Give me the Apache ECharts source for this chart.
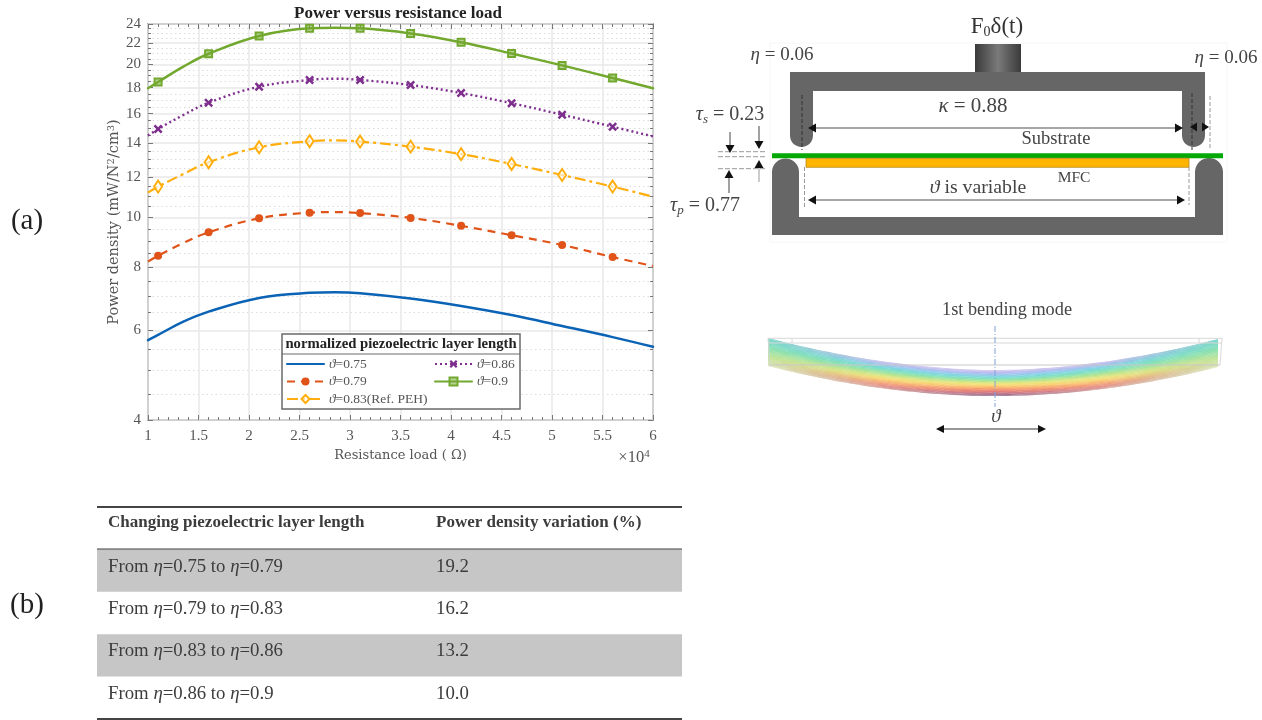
<!DOCTYPE html>
<html>
<head>
<meta charset="utf-8">
<style>html,body{margin:0;padding:0;background:#fff}#c{width:1262px;height:720px}</style>
<script src="https://cdn.jsdelivr.net/npm/echarts@6/dist/echarts.min.js"></script>
</head>
<body>
<div id="c"></div>
<script>
// ---- chart data ----
const resistance = [10000, 11000, 13500, 16000, 21000, 26000, 28500, 31000, 36000, 41000, 46000, 51000, 56000, 60000];
const unmarked = [10000, 13500, 28500, 60000];
const theta075 = [5.74, 5.88, 6.24, 6.53, 6.95, 7.11, 7.13, 7.10, 6.93, 6.70, 6.43, 6.12, 5.82, 5.57];
const theta079 = [8.19, 8.41, 8.91, 9.35, 9.96, 10.22, 10.25, 10.20, 9.98, 9.63, 9.23, 8.83, 8.36, 8.03];
const theta083 = [11.19, 11.50, 12.17, 12.84, 13.74, 14.12, 14.18, 14.10, 13.78, 13.32, 12.74, 12.12, 11.50, 10.99];
const theta086 = [14.48, 14.92, 15.90, 16.81, 18.07, 18.63, 18.74, 18.63, 18.21, 17.56, 16.77, 15.92, 15.08, 14.43];
const theta090 = [17.95, 18.46, 19.79, 20.98, 22.74, 23.54, 23.60, 23.54, 23.00, 22.10, 21.00, 19.90, 18.80, 17.94];
const seriesNames = ['ϑ=0.75', 'ϑ=0.79', 'ϑ=0.83(Ref. PEH)', 'ϑ=0.86', 'ϑ=0.9'];
const yMajorTicks = [4, 6, 8, 10, 12, 14, 16, 18, 20, 22, 24];
const yMinorTicks = [4.5, 5, 5.5, 6.5, 7, 7.5, 8.5, 9, 9.5, 10.5, 11, 11.5, 12.5, 13, 13.5, 14.5, 15, 15.5, 16.5, 17, 17.5, 18.5, 19, 19.5, 20.5, 21, 21.5, 22.5, 23, 23.5];
// ---- table data ----
const tableHeader = ['Changing piezoelectric layer length', 'Power density variation (%)'];
const tableChange = ['From {i|η}=0.75 to {i|η}=0.79', 'From {i|η}=0.79 to {i|η}=0.83', 'From {i|η}=0.83 to {i|η}=0.86', 'From {i|η}=0.86 to {i|η}=0.9'];
const tableVariation = ['19.2', '16.2', '13.2', '10.0'];

const SERIF = '"Liberation Serif","DejaVu Serif",serif';
const WIDE = '"DejaVu Serif","Liberation Serif",serif';
const TXT = '#555';
const el = document.getElementById('c');
const chart = echarts.init(el, null, {renderer: 'canvas', width: 1262, height: 720});

// a practically empty glyph so the blue legend entry shows its line only
const noGlyph = 'path://M0 0L0.01 0L0 0.01Z M100 100L100.01 100L100 100.01Z';
function lineSeries(name, vals, color, dash, width, symbol, size, fill, bw) {
  return {
    name, type: 'line', xAxisIndex: 0, yAxisIndex: 0,
    data: vals.map((v, i) => (symbol === noGlyph || unmarked.includes(resistance[i]))
      ? {value: [resistance[i], v], symbol: 'none'} : {value: [resistance[i], v]}),
    smooth: 0.4, clip: true,
    showAllSymbol: true,
    symbol,
    symbolSize: size,
    lineStyle: {color, width, type: dash, cap: dash === 'solid' ? 'round' : 'butt'},
    itemStyle: {color: fill, borderColor: color, borderWidth: bw},
    z: 3
  };
}
const xShape = 'path://M2 0 L5 3 L8 0 L10 2 L7 5 L10 8 L8 10 L5 7 L2 10 L0 8 L3 5 L0 2 Z';
const hidden = {show: false};

function yAxisCopy(pos, ticks, splitStyle, tickLen) {
  return {
    type: 'log', gridIndex: 0, position: pos, min: 4, max: 24, logBase: 10,
    axisLine: {show: false},
    axisLabel: {show: false, customValues: ticks},
    axisTick: {show: true, inside: true, length: tickLen, customValues: ticks, lineStyle: {color: '#777', width: 1}},
    minorTick: {show: false},
    splitLine: splitStyle ? {show: true, lineStyle: splitStyle} : {show: false}
  };
}
const yMain = yAxisCopy('left', yMajorTicks, {color: '#e8e8e8', width: 1.5}, 5);
yMain.axisLabel = {show: true, customValues: yMajorTicks, fontFamily: SERIF, fontSize: 15, color: TXT, margin: 7, formatter: v => String(Math.round(v))};
yMain.name = '{a|Power density (mW/N}{s|2}{a|/cm}{s|3}{a|)}';
yMain.nameLocation = 'middle';
yMain.nameGap = 25;
yMain.nameTextStyle = {rich: {a: {fontFamily: WIDE, fontSize: 14.5, color: TXT}, s: {fontFamily: WIDE, fontSize: 10, color: TXT, padding: [0, 0, 7, 0]}}};

const xMain = {
  type: 'value', gridIndex: 0, position: 'bottom', min: 10000, max: 60000, interval: 5000,
  axisLine: {show: false, onZero: false},
  axisTick: {show: true, inside: true, length: 5, lineStyle: {color: '#777'}},
  minorTick: {show: true, splitNumber: 5, length: 3, lineStyle: {color: '#777'}},
  splitLine: {show: true, lineStyle: {color: '#e8e8e8', width: 1.5}},
  axisLabel: {fontFamily: SERIF, fontSize: 15, color: TXT, margin: 9, formatter: v => String(v / 10000)},
  name: 'Resistance load ( Ω)', nameLocation: 'middle', nameGap: 28,
  nameTextStyle: {fontFamily: WIDE, fontSize: 13, color: TXT}
};
const xTop = {
  type: 'value', gridIndex: 0, position: 'top', min: 10000, max: 60000, interval: 5000,
  axisLine: {show: false, onZero: false},
  axisTick: {show: true, inside: true, length: 5, lineStyle: {color: '#777'}},
  minorTick: {show: true, splitNumber: 5, length: 3, lineStyle: {color: '#777'}},
  splitLine: hidden, axisLabel: hidden
};

// ---- table through its own category grid ----
function renderTable(params, api) {
  const row = api.value(0);
  const r = params.coordSys;
  const c = api.coord([0, row]);
  const h = api.size([0, 1])[1];
  const top = c[1] - h / 2, bottom = c[1] + h / 2;
  const kids = [];
  if (row % 2 === 1) kids.push({type: 'rect', shape: {x: r.x, y: top, width: r.width, height: h}, style: {fill: '#c6c6c6'}});
  const font = row === 0 ? 'bold 17px ' + SERIF : '18.8px ' + SERIF;
  const t1 = row === 0 ? tableHeader[0] : tableChange[row - 1];
  const t2 = row === 0 ? tableHeader[1] : tableVariation[row - 1];
  [[t1, r.x + 11], [t2, r.x + 339]].forEach(([t, x]) => kids.push({
    type: 'text',
    style: {text: t, x, y: c[1] - (row === 0 ? 6 : 4), font, fill: '#3c3c3c', align: 'left', verticalAlign: 'middle',
      rich: {i: {font: 'italic 18.8px ' + SERIF, fill: '#3c3c3c'}}}
  }));
  const rule = (y, w) => ({type: 'line', shape: {x1: r.x, y1: y, x2: r.x + r.width, y2: y}, style: {stroke: '#444', lineWidth: w}});
  if (row === 0) { kids.push(rule(top, 2)); kids.push(rule(bottom, 2)); }
  if (row === tableChange.length) kids.push(rule(bottom, 2));
  return {type: 'group', children: kids};
}

// ---- schematic (illustration, not data) ----
const G = [];
const txt = (text, x, y, size, o = {}) => G.push({type: 'text', z: 6, style: Object.assign({text, x, y, font: (o.it ? 'italic ' : '') + (o.bold ? 'bold ' : '') + size + 'px ' + SERIF, fill: o.fill || '#444', align: o.align || 'center', verticalAlign: 'middle'}, o.rich ? {rich: o.rich} : {})});
const GRAY = '#666666';
const seg = (x1, y1, x2, y2, stroke, w, dash) => G.push({type: 'line', z: 6, shape: {x1, y1, x2, y2}, style: {stroke, lineWidth: w, lineDash: dash || null}});
const head = (x, y, dir, l = 8, b = 4.5) => {
  const pts = dir === 'l' ? [[x, y], [x + l, y - b], [x + l, y + b]] : dir === 'r' ? [[x, y], [x - l, y - b], [x - l, y + b]] :
    dir === 'u' ? [[x, y], [x - b, y + l], [x + b, y + l]] : [[x, y], [x - b, y - l], [x + b, y - l]];
  G.push({type: 'polygon', z: 7, shape: {points: pts}, style: {fill: '#111'}});
};
const arcPts = (cx0, cy0, r, a0, a1) => { const out = []; for (let i = 0; i <= 16; i++) { const a = (a0 + (a1 - a0) * i / 16) * Math.PI / 180; out.push([cx0 + r * Math.cos(a), cy0 + r * Math.sin(a)]); } return out; };
// faint picture border
G.push({type: 'rect', z: 1, shape: {x: 770, y: 43, width: 457, height: 199}, style: {fill: 'none', stroke: '#f6f6f6', lineWidth: 1}});
// weight block
G.push({type: 'rect', z: 5, shape: {x: 975, y: 44, width: 46, height: 28}, style: {fill: new echarts.graphic.LinearGradient(0, 0, 1, 0, [
  {offset: 0, color: '#3a3a3a'}, {offset: 0.5, color: '#7a7a7a'}, {offset: 1, color: '#3a3a3a'}])}});
// upper frame
G.push({type: 'polygon', z: 5, shape: {points: [[790, 72], [1205, 72]].concat(arcPts(1193.5, 135.5, 11.5, 0, 180), [[1182, 91], [813, 91]], arcPts(801.5, 135.5, 11.5, 0, 180))}, style: {fill: GRAY}});
// lower frame
G.push({type: 'polygon', z: 5, shape: {points: [[772, 235]].concat(arcPts(785.5, 172, 13.5, 180, 360), [[799, 217], [1195, 217]], arcPts(1209, 172, 14, 180, 360), [[1223, 235]])}, style: {fill: GRAY}});
// layers
G.push({type: 'rect', z: 6, shape: {x: 772, y: 153.3, width: 451, height: 5}, style: {fill: '#06a806'}});
G.push({type: 'rect', z: 6, shape: {x: 806, y: 158.3, width: 383, height: 9}, style: {fill: '#ffb400', stroke: '#b78a20', lineWidth: 0.8}});
// dashed guides
seg(802, 95, 802, 150, '#333', 1, [4, 2]);
seg(1192, 93, 1192, 150, '#333', 1, [4, 2]);
seg(1210, 96, 1210, 148, '#999', 1, [4, 2]);
seg(804.5, 167, 804.5, 208, '#999', 1, [4, 2]);
seg(1189, 167, 1189, 205, '#999', 1, [4, 2]);
[151.7, 156.7, 168.7].forEach(y => seg(718, y, 767, y, '#999', 1, [5, 2]));
// dimension arrows
seg(810, 128, 1180, 128, '#8a8a8a', 1.3); head(808, 128, 'l'); head(1183, 128, 'r');
seg(810, 200, 1183, 200, '#8a8a8a', 1.3); head(808, 200, 'l'); head(1185, 200, 'r');
head(1190, 127, 'l', 7); head(1209, 127, 'r', 7);
seg(730, 132, 730, 146, '#444', 1); head(730, 153, 'd');
seg(759, 126, 759, 142, '#444', 1); head(759, 149, 'd');
seg(759, 168, 759, 182, '#999', 1); head(759, 160, 'u');
seg(729, 178, 729, 193, '#444', 1); head(729, 170, 'u');
// labels
const mathEta = {i: {font: 'italic 19px ' + SERIF, fill: '#444'}};
const mathTau = {i: {font: 'italic 20px ' + SERIF, fill: '#444'}, sub: {font: 'italic 13px ' + SERIF, fill: '#444', verticalAlign: 'top', padding: [10, 0, 0, 0]}};
txt('F{sub|0}δ(t)', 997, 27, 23, {rich: {sub: {font: '14px ' + SERIF, fill: '#333', padding: [10, 0, 0, 0]}}, fill: '#333'});
txt('{i|η} = 0.06', 782, 55, 19, {rich: mathEta});
txt('{i|η} = 0.06', 1226, 58, 19, {rich: mathEta});
txt('{i|κ} = 0.88', 973, 106, 21, {rich: {i: {font: 'italic 21px ' + SERIF, fill: '#444'}}});
txt('Substrate', 1056, 139, 18.5);
txt('MFC', 1074, 178, 15.5);
txt('{i|ϑ} is variable', 978, 188, 19.8, {rich: {i: {font: 'italic 19.8px ' + SERIF, fill: '#444'}}});
txt('{i|τ}{sub|s} = 0.23', 730, 115, 20, {rich: mathTau});
txt('{i|τ}{sub|p} = 0.77', 705, 206, 20, {rich: mathTau});
txt('(a)', 27, 221, 29, {fill: '#222'});
txt('(b)', 27, 605, 29, {fill: '#222'});

// bending-mode beam: thin bands, colour varies along the span and through the depth
const cx = 995, halfSpan = 227;
const midStops = ['#dccff0', '#b9b2ec', '#98c0ee', '#6fd6dc', '#7cdfa6', '#bce47e', '#f5e26c', '#fbc061', '#f59360', '#e66e66', '#b5637f', '#8c6a8c'];
const endStops = ['#6fd3c6', '#6fd5c2', '#72d8bc', '#78dab4', '#82ddaa', '#90dfa2', '#a2e09a', '#b2e292', '#bee292', '#c8e29a', '#d2e4a8', '#dce8bc'];
const quarterStops = ['#cbbdea', '#a2b6ec', '#78cfe4', '#6ddac6', '#84dfa6', '#ade188', '#dce478', '#f6da6c', '#f8b868', '#f2956c', '#e08a84', '#d8a49c'];
const bands = 44;
function beamY(x, f) {
  const u = Math.abs(x - cx) / halfSpan;
  const top = 370 - 32 * Math.pow(u, 1.85);
  const bot = 396 - 30 * Math.pow(u, 1.95);
  return top + (bot - top) * f;
}
function stopAt(list, f) {
  const p = f * (list.length - 1), i = Math.min(Math.floor(p), list.length - 2), t = p - i;
  const a = echarts.color.parse(list[i]), b = echarts.color.parse(list[i + 1]);
  return 'rgb(' + [0, 1, 2].map(k => Math.round(a[k] + (b[k] - a[k]) * t)).join(',') + ')';
}
for (let b = 0; b < bands; b++) {
  const f0 = b / bands, f1 = Math.min(1, (b + 1.3) / bands), fm = (b + .5) / bands;
  const up = [], dn = [];
  for (let x = cx - halfSpan; x <= cx + halfSpan; x += 6) { up.push([x, beamY(x, f0)]); dn.unshift([x, beamY(x, f1)]); }
  const grad = new echarts.graphic.LinearGradient(0, 0, 1, 0, [
    {offset: 0, color: stopAt(endStops, fm)}, {offset: 0.25, color: stopAt(quarterStops, fm)}, {offset: 0.5, color: stopAt(midStops, fm)},
    {offset: 0.75, color: stopAt(quarterStops, fm)}, {offset: 1, color: stopAt(endStops, fm)}], false);
  G.push({type: 'polygon', z: 5, shape: {points: up.concat(dn)}, style: {fill: grad}});
}
seg(768, 338.3, 1222, 338.3, '#d8d8d8', 1);
seg(768, 343, 1222, 343, '#d8d8d8', 1);
seg(769, 365, 1220, 365, '#c8c8c8', 1);
seg(792, 338, 792, 343, '#d8d8d8', 1); seg(1199, 338, 1199, 343, '#d8d8d8', 1);
seg(768, 338, 770, 365, '#d8d8d8', 1); seg(1222, 338, 1220, 365, '#d8d8d8', 1);
seg(995, 326, 995, 407, '#7f9fd8', 1, [6, 2, 1, 2]);
txt('1st bending mode', 1007, 310, 18.3);
txt('ϑ', 996, 417, 19, {it: true});
seg(940, 429, 1042, 429, '#333', 1.2); head(936, 429, 'l', 8, 4); head(1046, 429, 'r', 8, 4);

// chart text not owned by an axis, and the legend panel
txt('×10{s|4}', 634, 458, 16.5, {fill: TXT, rich: {s: {font: '11px ' + SERIF, fill: TXT, padding: [0, 0, 8, 0]}}});
G.push({type: 'rect', z: 5, shape: {x: 282, y: 334, width: 238, height: 75}, style: {fill: '#fff', stroke: '#6a6a6a', lineWidth: 1.5}});
G.push({type: 'line', z: 6, shape: {x1: 282, y1: 354, x2: 520, y2: 354}, style: {stroke: '#6a6a6a', lineWidth: 1}});
txt('normalized piezoelectric layer length', 401, 344.5, 14.7, {bold: true, fill: '#222'});

const legendBase = {
  orient: 'vertical', itemWidth: 37, itemHeight: 10, itemGap: 3.5, z: 12, padding: 0,
  textStyle: {fontFamily: SERIF, fontSize: 13.5, color: TXT, rich: {i: {fontFamily: SERIF, fontStyle: 'italic', fontSize: 13.5, color: TXT}}},
  formatter: n => n.replace('ϑ', '{i|ϑ}')
};

chart.setOption({
  animation: false,
  backgroundColor: '#fff',
  title: {text: 'Power versus resistance load', left: 393, top: 0, textAlign: 'center',
    textStyle: {fontFamily: SERIF, fontWeight: 'bold', fontSize: 17, color: '#222'}},
  grid: [
    {left: 148, top: 24, width: 505, height: 396, show: true, backgroundColor: '#fff', borderColor: '#666', borderWidth: 1.5, z: 0},
    {left: 97, top: 507, width: 585, height: 212}
  ],
  legend: [
    Object.assign({}, legendBase, {left: 286, top: 357, data: seriesNames.slice(0, 3)}),
    Object.assign({}, legendBase, {left: 434, top: 357, data: seriesNames.slice(3)})
  ],
  xAxis: [xMain, xTop, {type: 'value', gridIndex: 1, min: 0, max: 1, show: false}],
  yAxis: [
    yMain,
    yAxisCopy('left', yMinorTicks, {color: '#dcdcdc', width: 1, type: [1.5, 3]}, 3),
    yAxisCopy('right', yMajorTicks, null, 5),
    yAxisCopy('right', yMinorTicks, null, 3),
    {type: 'category', gridIndex: 1, inverse: true, show: false, data: ['header'].concat(tableVariation)}
  ],
  graphic: {elements: G},
  series: [
    lineSeries(seriesNames[0], theta075, '#0b63b5', 'solid', 2.5, noGlyph, 0, '#0b63b5', 0),
    lineSeries(seriesNames[1], theta079, '#e0541a', [8, 6], 2.2, 'circle', 8, '#e0541a', 0),
    lineSeries(seriesNames[2], theta083, '#ffae0d', [11, 4, 3, 4], 2.2, 'diamond', [8, 12], 'rgba(255,255,255,0.6)', 2),
    lineSeries(seriesNames[3], theta086, '#7e2f8e', [2, 3], 2.4, xShape, 9, '#7e2f8e', 0),
    lineSeries(seriesNames[4], theta090, '#73a82f', 'solid', 2.5, 'rect', 7, 'rgba(115,168,47,0.5)', 2),
    {type: 'line', xAxisIndex: 1, yAxisIndex: 1, data: [], silent: true},
    {type: 'line', xAxisIndex: 1, yAxisIndex: 2, data: [], silent: true},
    {type: 'line', xAxisIndex: 1, yAxisIndex: 3, data: [], silent: true},
    {type: 'custom', xAxisIndex: 2, yAxisIndex: 4, renderItem: renderTable, data: [0, 1, 2, 3, 4].map(i => [i]), encode: {y: 0}, clip: false, silent: true}
  ]
});
</script>
</body>
</html>
